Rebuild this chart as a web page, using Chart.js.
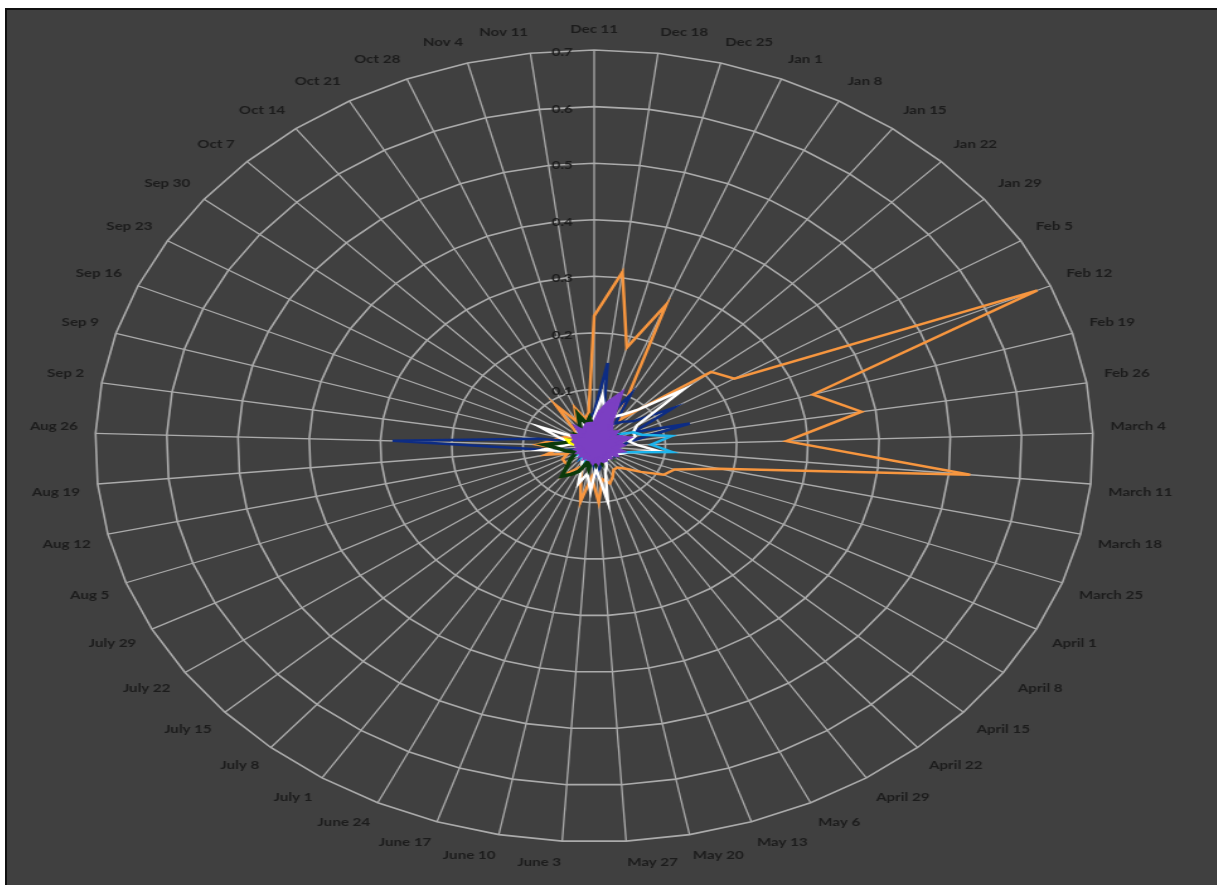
<!DOCTYPE html>
<html>
<head>
<meta charset="utf-8">
<script src="https://cdn.jsdelivr.net/npm/chart.js@4.4.0/dist/chart.umd.min.js"></script>
<style>
  html, body { margin: 0; padding: 0; background: #fff; overflow: hidden; }
  #marco { position: absolute; left: 5px; top: 8px; width: 1212px; height: 877px; background: #404040;
           border-left: 2px solid #111; border-top: 2px solid #111; overflow: hidden; }
  /* el grafico original de Excel esta estirado a lo ancho */
  #estirado { position: absolute; left: 0; top: 0; width: 960px; height: 877px;
              transform: scaleX(1.26); transform-origin: 0 0; }
</style>
</head>
<body>
<div id="marco"><div id="estirado"><canvas id="myChart" width="960" height="877"></canvas></div></div>
<script>
// Semanas (categorias del radar)
var semanas = ['Dec 11','Dec 18','Dec 25','Jan 1','Jan 8','Jan 15','Jan 22','Jan 29','Feb 5','Feb 12','Feb 19','Feb 26',
  'March 4','March 11','March 18','March 25','April 1','April 8','April 15','April 22','April 29','May 6','May 13','May 20',
  'May 27','June 3','June 10','June 17','June 24','July 1','July 8','July 15','July 22','July 29','Aug 5','Aug 12','Aug 19',
  'Aug 26','Sep 2','Sep 9','Sep 16','Sep 23','Sep 30','Oct 7','Oct 14','Oct 21','Oct 28','Nov 4','Nov 11'];

// Etiquetas del eje radial
var marcasEje = ['0.1','0.2','0.3','0.4','0.5','0.6','0.7'];

// Series
var naranja = [0.23,0.31,0.18,0.27,0.09,0.056,0.09,0.21,0.23,0.68,0.32,0.38,0.27,0.53,0.18,0.12,0.11,0.08,0.06,0.05,0.05,
  0.06,0.07,0.06,0.10,0.055,0.10,0.06,0.04,0.05,0.07,0.05,0.05,0.05,0.04,0.07,0.05,0.08,0.06,0.05,0.04,0.03,0.03,0.04,
  0.09,0.05,0.073,0.05,0.06];
var azulOscuro = [0.06,0.148,0.05,0.06,0.105,0.05,0.06,0.07,0.13,0.06,0.14,0.05,0.04,0.03,0.03,0.02,0.02,0.03,0.02,0.02,
  0.03,0.02,0.03,0.04,0.05,0.03,0.02,0.03,0.02,0.02,0.03,0.02,0.02,0.03,0.02,0.03,0.07,0.283,0.08,0.03,0.02,0.02,0.03,
  0.02,0.03,0.02,0.03,0.04,0.05];
var blanco = [0.05,0.09,0.06,0.05,0.06,0.07,0.09,0.16,0.07,0.06,0.06,0.05,0.06,0.09,0.05,0.04,0.03,0.03,0.02,0.03,0.03,
  0.04,0.05,0.10,0.04,0.08,0.05,0.07,0.04,0.03,0.02,0.02,0.03,0.02,0.03,0.04,0.075,0.04,0.03,0.05,0.083,0.03,0.02,0.03,
  0.02,0.03,0.04,0.03,0.04];
var celeste = [0.02,0.02,0.02,0.03,0.02,0.03,0.03,0.03,0.04,0.06,0.07,0.11,0.08,0.11,0.05,0.03,0.02,0.02,0.01,0.02,0.02,
  0.02,0.03,0.03,0.03,0.02,0.02,0.01,0.02,0.01,0.02,0.01,0.02,0.01,0.02,0.01,0.02,0.02,0.01,0.02,0.01,0.02,0.01,0.02,
  0.01,0.02,0.01,0.02,0.02];
var morado = [0.04,0.06,0.08,0.10,0.05,0.04,0.035,0.04,0.03,0.04,0.05,0.035,0.04,0.03,0.04,0.03,0.035,0.025,0.03,0.025,
  0.03,0.03,0.025,0.03,0.025,0.03,0.025,0.025,0.02,0.025,0.02,0.025,0.02,0.025,0.02,0.025,0.02,0.025,0.025,0.03,0.03,
  0.035,0.03,0.025,0.04,0.03,0.035,0.04,0.04];
var verdeOscuro = [0.03,0.02,0.02,0.01,0.02,0.01,0.02,0.01,0.02,0.01,0.02,0.01,0.02,0.01,0.02,0.01,0.02,0.01,0.02,0.01,
  0.02,0.02,0.03,0.02,0.03,0.02,0.04,0.03,0.05,0.06,0.07,0.05,0.04,0.03,0.03,0.04,0.05,0.07,0.04,0.03,0.02,0.02,0.03,
  0.02,0.03,0.04,0.06,0.04,0.05];
var amarillo = [0.005,0.005,0.005,0.005,0.005,0.005,0.005,0.005,0.005,0.005,0.005,0.005,0.005,0.005,0.005,0.005,0.005,
  0.005,0.005,0.005,0.005,0.005,0.005,0.005,0.005,0.005,0.005,0.005,0.005,0.005,0.005,0.005,0.005,0.005,0.005,0.01,
  0.02,0.025,0.035,0.04,0.02,0.01,0.005,0.005,0.005,0.005,0.005,0.005,0.005];
var rojo = [0.005,0.005,0.005,0.005,0.005,0.005,0.005,0.005,0.005,0.005,0.005,0.005,0.005,0.005,0.005,0.005,0.005,
  0.005,0.005,0.005,0.005,0.005,0.01,0.02,0.02,0.02,0.01,0.005,0.005,0.005,0.005,0.005,0.005,0.005,0.005,0.005,0.005,
  0.005,0.005,0.005,0.005,0.005,0.005,0.005,0.005,0.005,0.005,0.005,0.005];

function serie(valores, color, grosor, relleno) {
  return { data: valores, borderColor: color, backgroundColor: relleno ? color : 'transparent', borderWidth: grosor,
           pointRadius: 0, pointHoverRadius: 0, fill: !!relleno, tension: 0 };
}

// Etiquetas 0.1 ... 0.7 a la izquierda del eje vertical, como en Excel
var etiquetasRadiales = {
  id: 'etiquetasRadiales',
  beforeDatasetsDraw: function(chart) {
    var r = chart.scales.r;
    var ctx = chart.ctx;
    ctx.save();
    ctx.font = 'bold 12px Lato';
    ctx.fillStyle = '#1c1c1c';
    ctx.textAlign = 'right';
    ctx.textBaseline = 'middle';
    marcasEje.forEach(function(m) {
      var d = r.getDistanceFromCenterForValue(parseFloat(m));
      ctx.fillText(m, r.xCenter - 17, r.yCenter - d + 2);
    });
    ctx.restore();
  }
};

var ctx = document.getElementById('myChart').getContext('2d');
var myChart = new Chart(ctx, {
  type: 'radar',
  data: {
    labels: semanas,
    datasets: [
      serie(morado, '#7b3fc2', 3.5, true),
      serie(rojo, '#e00000', 2.5),
      serie(amarillo, '#ffff00', 2.5),
      serie(verdeOscuro, '#0b3a0b', 3.5),
      serie(celeste, '#1db4ec', 2.5),
      serie(blanco, '#ffffff', 2.5),
      serie(azulOscuro, '#0d2c84', 2.5),
      serie(naranja, '#f7963f', 2.5)
    ]
  },
  options: {
    responsive: false,
    animation: false,
    layout: { padding: { left: 14, right: 29, top: 5, bottom: 10 } },
    plugins: { legend: { display: false }, tooltip: { enabled: false } },
    scales: {
      r: {
        min: 0,
        max: 0.7,
        ticks: { stepSize: 0.1, display: false },
        grid: { color: '#ababab', lineWidth: 1.6 },
        angleLines: { color: '#ababab', lineWidth: 1.3 },
        pointLabels: { color: '#1c1c1c', font: { family: 'Lato', size: 12, weight: 'bold' }, padding: 14 }
      }
    }
  },
  plugins: [etiquetasRadiales]
});
</script>
</body>
</html>
